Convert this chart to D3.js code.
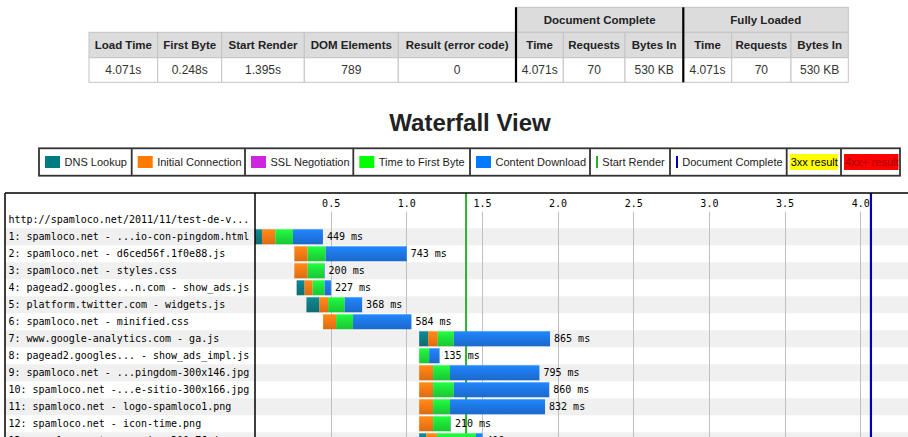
<!DOCTYPE html>
<html>
<head>
<meta charset="utf-8">
<script src="https://cdn.jsdelivr.net/npm/d3@7"></script>
<style>
  body { margin: 0; background: #fff; }
  svg { display: block; }
</style>
</head>
<body>
<div class="chart"></div>
<script>
// summary table
const summaryHeaders = ['Load Time', 'First Byte', 'Start Render', 'DOM Elements', 'Result (error code)',
  'Time', 'Requests', 'Bytes In', 'Time', 'Requests', 'Bytes In'];
const summaryValues = ['4.071s', '0.248s', '1.395s', '789', '0',
  '4.071s', '70', '530 KB', '4.071s', '70', '530 KB'];
const summaryGroups = ['Document Complete', 'Fully Loaded'];

// legend
const legendLabels = ['DNS Lookup', 'Initial Connection', 'SSL Negotiation', 'Time to First Byte',
  'Content Download', 'Start Render', 'Document Complete', '3xx result', '4xx+ result'];

// waterfall (times in seconds)
const pageUrl = 'http://spamloco.net/2011/11/test-de-v...';
const requestLabels = [
  '1: spamloco.net - ...io-con-pingdom.html',
  '2: spamloco.net - d6ced56f.1f0e88.js',
  '3: spamloco.net - styles.css',
  '4: pagead2.googles...n.com - show_ads.js',
  '5: platform.twitter.com - widgets.js',
  '6: spamloco.net - minified.css',
  '7: www.google-analytics.com - ga.js',
  '8: pagead2.googles... - show_ads_impl.js',
  '9: spamloco.net - ...pingdom-300x146.jpg',
  '10: spamloco.net -...e-sitio-300x166.jpg',
  '11: spamloco.net - logo-spamloco1.png',
  '12: spamloco.net - icon-time.png',
  '13: spamloco.net - ...cion-300x76.jpg'
];
const requestStart = [0, 0.26, 0.26, 0.275, 0.34, 0.45, 1.085, 1.085, 1.085, 1.085, 1.085, 1.085, 1.085];
const dnsTime      = [0.046, 0, 0, 0.053, 0.086, 0, 0.059, 0, 0, 0, 0, 0, 0.046];
const connectTime  = [0.088, 0.088, 0.088, 0.053, 0.057, 0.086, 0.064, 0, 0.092, 0.092, 0.092, 0.092, 0.071];
const sslTime      = [0, 0, 0, 0, 0, 0, 0, 0, 0, 0, 0, 0, 0];
const ttfbTime     = [0.117, 0.119, 0.108, 0.079, 0.110, 0.112, 0.106, 0.066, 0.112, 0.137, 0.112, 0.116, 0.258];
const totalMs      = [449, 743, 200, 227, 368, 584, 865, 135, 795, 860, 832, 210, 419];
const startRender = 1.395;
const docComplete = 4.071;
const timeTicks = [0.5, 1.0, 1.5, 2.0, 2.5, 3.0, 3.5, 4.0];

const phaseColors = {
  dns: '#0f7b84', connect: '#f57b14', ssl: '#cf25df', ttfb: '#1ee23a', download: '#1e78e6'
};
const legendColors = ['#007b84', '#ff7b00', '#cf25df', '#00ff00', '#007bff', '#28b428', '#0000b4', '#ffff00', '#ff0000'];

const W = 908, H = 437;
const sans = '"Liberation Sans", Arial, sans-serif';
const mono = '"DejaVu Sans Mono", monospace';

const svg = d3.select('.chart')
  .append('svg')
    .attr('width', W)
    .attr('height', H);

// ---------- summary table ----------
const colEdges = [89, 157.7, 221.7, 304.3, 398.3, 516, 563.3, 625, 683.3, 731.7, 791, 848.3];
const groupTop = 7.3, headTop = 32.3, rowTop = 57.7, tableBottom = 82.3;
const table = svg.append('g');

// group header cells
const groupSpans = [[5, 8], [8, 11]];
table.selectAll('rect.group')
  .data(summaryGroups)
  .join('rect')
    .attr('x', (d, i) => colEdges[groupSpans[i][0]])
    .attr('y', groupTop)
    .attr('width', (d, i) => colEdges[groupSpans[i][1]] - colEdges[groupSpans[i][0]])
    .attr('height', headTop - groupTop)
    .attr('fill', '#dcdcdc')
    .attr('stroke', '#c4c4c4');
table.selectAll('text.group')
  .data(summaryGroups)
  .join('text')
    .attr('x', (d, i) => (colEdges[groupSpans[i][0]] + colEdges[groupSpans[i][1]]) / 2)
    .attr('y', (groupTop + headTop) / 2)
    .attr('dy', '0.35em')
    .attr('text-anchor', 'middle')
    .attr('font-family', sans)
    .attr('font-weight', 'bold')
    .attr('font-size', 11.5)
    .attr('fill', '#222')
    .text(d => d);

table.selectAll('rect.head')
  .data(summaryHeaders)
  .join('rect')
    .attr('x', (d, i) => colEdges[i])
    .attr('y', headTop)
    .attr('width', (d, i) => colEdges[i + 1] - colEdges[i])
    .attr('height', rowTop - headTop)
    .attr('fill', '#dcdcdc')
    .attr('stroke', '#c4c4c4');
table.selectAll('text.head')
  .data(summaryHeaders)
  .join('text')
    .attr('x', (d, i) => (colEdges[i] + colEdges[i + 1]) / 2)
    .attr('y', (headTop + rowTop) / 2)
    .attr('dy', '0.35em')
    .attr('text-anchor', 'middle')
    .attr('font-family', sans)
    .attr('font-weight', 'bold')
    .attr('font-size', 11.5)
    .attr('fill', '#222')
    .text(d => d);

table.selectAll('rect.val')
  .data(summaryValues)
  .join('rect')
    .attr('x', (d, i) => colEdges[i])
    .attr('y', rowTop)
    .attr('width', (d, i) => colEdges[i + 1] - colEdges[i])
    .attr('height', tableBottom - rowTop)
    .attr('fill', '#fff')
    .attr('stroke', '#c4c4c4');
table.selectAll('text.val')
  .data(summaryValues)
  .join('text')
    .attr('x', (d, i) => (colEdges[i] + colEdges[i + 1]) / 2)
    .attr('y', (rowTop + tableBottom) / 2)
    .attr('dy', '0.35em')
    .attr('text-anchor', 'middle')
    .attr('font-family', sans)
    .attr('font-size', 12)
    .attr('fill', '#333')
    .text(d => d);

// thick separators before each group
table.selectAll('line.sep')
  .data(groupSpans)
  .join('line')
    .attr('x1', d => colEdges[d[0]])
    .attr('x2', d => colEdges[d[0]])
    .attr('y1', groupTop)
    .attr('y2', tableBottom)
    .attr('stroke', '#000')
    .attr('stroke-width', 2.2);

// ---------- title ----------
svg.append('text')
  .attr('x', 470)
  .attr('y', 131)
  .attr('text-anchor', 'middle')
  .attr('font-family', sans)
  .attr('font-weight', 'bold')
  .attr('font-size', 24)
  .attr('fill', '#222')
  .text('Waterfall View');

// ---------- legend ----------
const legendEdges = [39, 131.7, 245, 353.3, 470, 590, 670, 786.7, 841, 900];
const legendTop = 148.3, legendBottom = 175.7, legendMid = (legendTop + legendBottom) / 2;
const legend = svg.append('g');
legend.append('rect')
  .attr('x', legendEdges[0])
  .attr('y', legendTop)
  .attr('width', legendEdges[legendEdges.length - 1] - legendEdges[0])
  .attr('height', legendBottom - legendTop)
  .attr('fill', '#fff')
  .attr('stroke', '#333')
  .attr('stroke-width', 1.8);
legend.selectAll('line.sep')
  .data(legendEdges.slice(1, -1))
  .join('line')
    .attr('x1', d => d).attr('x2', d => d)
    .attr('y1', legendTop).attr('y2', legendBottom)
    .attr('stroke', '#333')
    .attr('stroke-width', 1.8);

const legendItems = legend.selectAll('g.item')
  .data(legendLabels)
  .join('g')
    .attr('transform', (d, i) => `translate(${legendEdges[i]},0)`);
legendItems.each(function (d, i) {
  const g = d3.select(this);
  if (i < 5) {
    g.append('rect')
      .attr('x', 6).attr('y', legendMid - 6)
      .attr('width', 15).attr('height', 12)
      .attr('fill', legendColors[i]);
    g.append('text')
      .attr('x', 25.5).attr('y', legendMid).attr('dy', '0.35em')
      .attr('font-family', sans).attr('font-size', 11).attr('fill', '#222')
      .text(d);
  } else if (i < 7) {
    g.append('rect')
      .attr('x', 6).attr('y', legendMid - 6)
      .attr('width', 2).attr('height', 12)
      .attr('fill', legendColors[i]);
    g.append('text')
      .attr('x', 12.3).attr('y', legendMid).attr('dy', '0.35em')
      .attr('font-family', sans).attr('font-size', 11).attr('fill', '#222')
      .text(d);
  } else {
    const t = g.append('text')
      .attr('x', 4).attr('y', legendMid).attr('dy', '0.35em')
      .attr('font-family', sans).attr('font-size', 11)
      .attr('fill', i === 7 ? '#000' : '#a00000')
      .text(d);
    const bb = t.node().getBBox();
    g.insert('rect', 'text')
      .attr('x', 3).attr('y', legendMid - 8)
      .attr('width', bb.width + 1).attr('height', 16)
      .attr('fill', legendColors[i]);
  }
});

// ---------- waterfall ----------
const wfTop = 193, labelLeft = 5, labelRight = 255;
const x = d3.scaleLinear()
  .domain([0, 4.0])
  .range([labelRight, 860.2]);
const rows = [pageUrl, ...requestLabels];
const y = d3.scaleBand()
  .domain(d3.range(rows.length))
  .range([211.3, 211.3 + 17 * rows.length])
  .padding(0);

const defs = svg.append('defs');
Object.entries(phaseColors).forEach(([k, c]) => {
  const grad = defs.append('linearGradient')
    .attr('id', `grad-${k}`)
    .attr('x1', 0).attr('y1', 0).attr('x2', 0).attr('y2', 1);
  grad.append('stop').attr('offset', '0%').attr('stop-color', d3.color(c).brighter(0.35));
  grad.append('stop').attr('offset', '45%').attr('stop-color', c);
  grad.append('stop').attr('offset', '100%').attr('stop-color', d3.color(c).darker(0.35));
});

const wf = svg.append('g');

// alternating row shading
wf.selectAll('rect.shade')
  .data(d3.range(1, rows.length).filter(i => i % 2 === 1))
  .join('rect')
    .attr('x', labelLeft)
    .attr('y', d => y(d))
    .attr('width', W - labelLeft)
    .attr('height', y.bandwidth())
    .attr('fill', '#f0f0f0');

// grid + tick labels
const axis = wf.append('g')
  .attr('transform', `translate(0, ${wfTop + 10})`)
  .call(d3.axisTop(x).tickValues(timeTicks).tickFormat(d3.format('.1f')).tickSize(0));
axis.select('.domain').remove();
axis.selectAll('text')
  .attr('dy', '0.35em')
  .attr('y', 0)
  .attr('font-family', mono)
  .attr('font-size', 10)
  .attr('fill', '#000');

wf.selectAll('line.grid')
  .data(timeTicks)
  .join('line')
    .attr('x1', d => Math.round(x(d)) + 0.5)
    .attr('x2', d => Math.round(x(d)) + 0.5)
    .attr('y1', 211.7)
    .attr('y2', H)
    .attr('stroke', '#bfbfbf')
    .attr('stroke-width', 1);

// start render line (behind bars)
wf.append('line')
  .attr('x1', x(startRender)).attr('x2', x(startRender))
  .attr('y1', wfTop).attr('y2', H)
  .attr('stroke', '#28b428')
  .attr('stroke-width', 2);

// bars
const segments = [];
requestLabels.forEach((label, i) => {
  const phases = [
    ['dns', dnsTime[i]],
    ['connect', connectTime[i]],
    ['ssl', sslTime[i]],
    ['ttfb', ttfbTime[i]]
  ];
  const used = d3.sum(phases, p => p[1]);
  phases.push(['download', Math.max(0, totalMs[i] / 1000 - used)]);
  let t = requestStart[i];
  phases.forEach(([k, dur]) => {
    if (dur > 0) segments.push({ row: i + 1, phase: k, t0: t, t1: t + dur });
    t += dur;
  });
});

wf.selectAll('rect.seg')
  .data(segments)
  .join('rect')
    .attr('x', d => x(d.t0))
    .attr('y', d => y(d.row) + 1)
    .attr('width', d => x(d.t1) - x(d.t0))
    .attr('height', y.bandwidth() - 2)
    .attr('fill', d => `url(#grad-${d.phase})`);

wf.selectAll('text.ms')
  .data(totalMs)
  .join('text')
    .attr('x', (d, i) => x(requestStart[i] + d / 1000) + 4)
    .attr('y', (d, i) => y(i + 1) + y.bandwidth() / 2)
    .attr('dy', '0.35em')
    .attr('font-family', mono)
    .attr('font-size', 10)
    .attr('fill', '#000')
    .text(d => `${d} ms`);

// document complete line
wf.append('line')
  .attr('x1', x(docComplete)).attr('x2', x(docComplete))
  .attr('y1', wfTop).attr('y2', H)
  .attr('stroke', '#0000b0')
  .attr('stroke-width', 2.2);

// row labels
wf.append('rect')
  .attr('x', labelLeft + 1).attr('y', wfTop).attr('width', 0).attr('height', 0);
wf.selectAll('text.label')
  .data(rows)
  .join('text')
    .attr('x', 8.5)
    .attr('y', (d, i) => y(i) + y.bandwidth() / 2)
    .attr('dy', '0.35em')
    .attr('font-family', mono)
    .attr('font-size', 10)
    .attr('fill', '#000')
    .text(d => d);

// frame
wf.append('line')
  .attr('x1', labelLeft).attr('x2', W)
  .attr('y1', wfTop).attr('y2', wfTop)
  .attr('stroke', '#000').attr('stroke-width', 1.5);
wf.selectAll('line.frame')
  .data([labelLeft, labelRight])
  .join('line')
    .attr('x1', d => d).attr('x2', d => d)
    .attr('y1', wfTop).attr('y2', H)
    .attr('stroke', '#000').attr('stroke-width', 1.5);
</script>
</body>
</html>
